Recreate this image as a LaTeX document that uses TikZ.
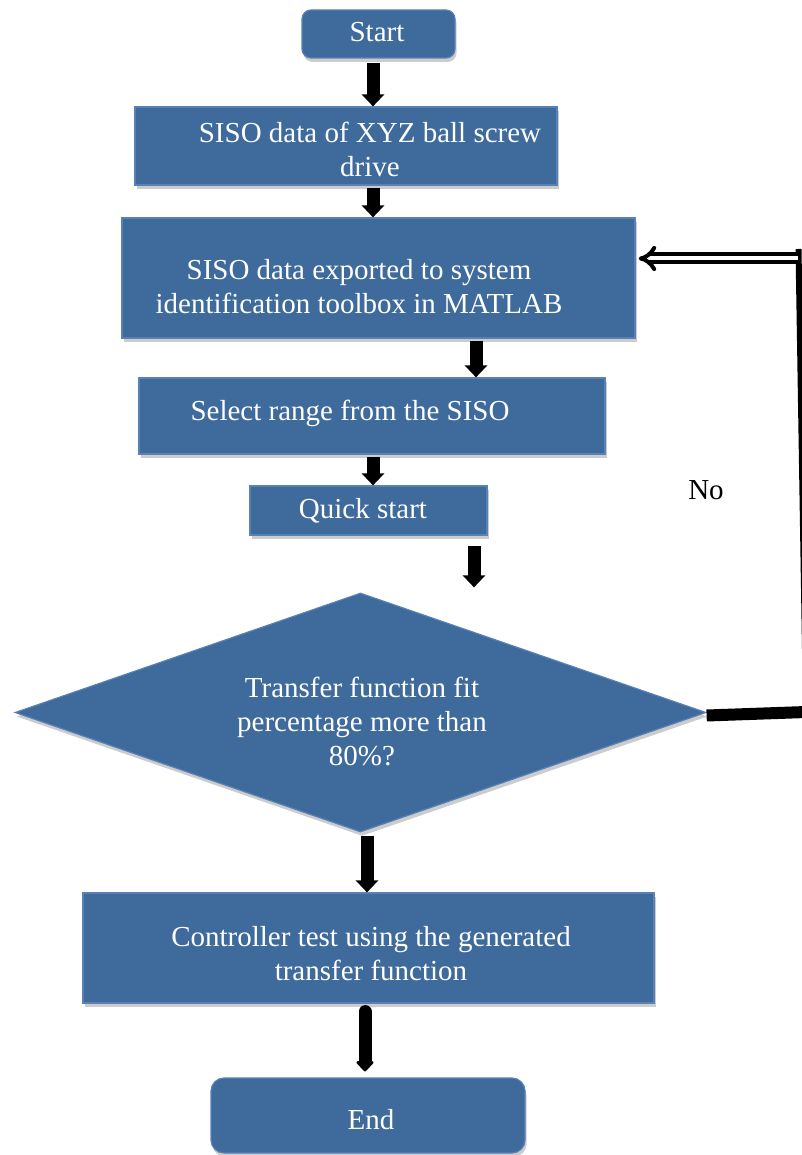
\documentclass[tikz,border=0pt]{standalone}
\usepackage{fontspec}
\setmainfont{Liberation Serif}
\usetikzlibrary{shapes.geometric,arrows.meta,shadows}
\definecolor{boxblue}{RGB}{62,106,156}
\definecolor{boxedge}{RGB}{88,130,182}
\begin{document}
\begin{tikzpicture}[x=1pt,y=-1pt,
  box/.style={draw=boxedge, line width=1.2pt, fill=boxblue, inner sep=0pt,
    drop shadow={shadow xshift=1.5pt, shadow yshift=-4pt, opacity=0.4}},
  rbox/.style={box, rounded corners=9pt},
  txt/.style={text=white, font=\fontsize{29}{34}\selectfont, align=center, inner sep=0pt},
  lbl/.style={text=black, font=\fontsize{29}{34}\selectfont, inner sep=0pt},
  blk/.style={line width=13pt, -{Triangle[width=22pt,length=12pt]}},
  blkr/.style={line width=13pt, line cap=round, -{Triangle[round,width=20pt,length=11pt]}},
  fbline/.style={line width=6pt},
  fbarrow/.style={double, line width=4pt, double distance=4pt, -Implies}
]
\useasboundingbox (0,0) rectangle (802,1155);

% boxes
\node[rbox, minimum width=153pt, minimum height=48pt] (start) at (378.5,34) {};
\node[box, minimum width=422pt, minimum height=78pt] (siso) at (346,146) {};
\node[box, minimum width=513pt, minimum height=120pt] (exp) at (378.5,278) {};
\node[box, minimum width=466pt, minimum height=76pt] (sel) at (372,416) {};
\node[box, minimum width=237pt, minimum height=49pt] (quick) at (368.5,510.5) {};
\node[box, diamond, aspect=2.89, minimum width=691pt, minimum height=239pt] (dec) at (360.5,712.5) {};
\node[box, minimum width=571pt, minimum height=110pt] (ctrl) at (368.5,948) {};
\node[rbox, rounded corners=13pt, minimum width=314pt, minimum height=75pt] (endb) at (368,1115.5) {};

% texts
\node[txt] (tstart) at (377,32) {Start};
\node[txt] (tsiso) at (370,149) {SISO data of XYZ ball screw\\drive};
\node[txt] (texp) at (359,287) {SISO data exported to system\\identification toolbox in MATLAB};
\node[txt] (tsel) at (350,413) {Select range from the SISO};
\node[txt] (tquick) at (363,511) {Quick start};
\node[txt] (tdec) at (362,721) {Transfer function fit\\percentage more than\\80\%?};
\node[txt] (tctrl) at (371,954) {Controller test using the generated\\transfer function};
\node[txt] (tend) at (371,1120) {End};
\node[lbl] (no) at (706,490) {No};

% main arrows
\draw[blk] ([xshift=-5.5pt,yshift=-4pt]start.south) -- ([xshift=-5.5pt]start.south |- siso.north);
\draw[blk] ([xshift=27pt,yshift=-2pt]siso.south) -- ([xshift=27pt]siso.south |- exp.north);
\draw[blk] ([xshift=97.5pt,yshift=-2pt]exp.south) -- ([xshift=97.5pt]exp.south |- sel.north);
\draw[blk] ([xshift=1pt,yshift=-2pt]sel.south) -- ([xshift=1pt]sel.south |- quick.north);
\draw[blk] ([xshift=105.5pt,yshift=-10pt]quick.south) -- ([xshift=105.5pt,yshift=5pt]quick.south |- dec.north);
\draw[blk] ([xshift=6.5pt,yshift=-3pt]dec.south) -- ([xshift=6.5pt]dec.south |- ctrl.north);
\draw[blkr] ([xshift=-3.5pt,yshift=-8pt]ctrl.south) -- ([xshift=-3.5pt,yshift=6pt]ctrl.south |- endb.north);

% feedback loop
\coordinate (fbR) at (806,712);
\coordinate (fbT) at (798.5,249);
\coordinate (fbA) at (798,258.5);
\draw[line width=12pt] ([yshift=-3pt]dec.east) -- (fbR);
\draw[fbline] (fbT) -- (fbR);
\draw[fbarrow] (fbA) -- ([xshift=3pt]exp.east |- fbA);
\end{tikzpicture}
\end{document}
